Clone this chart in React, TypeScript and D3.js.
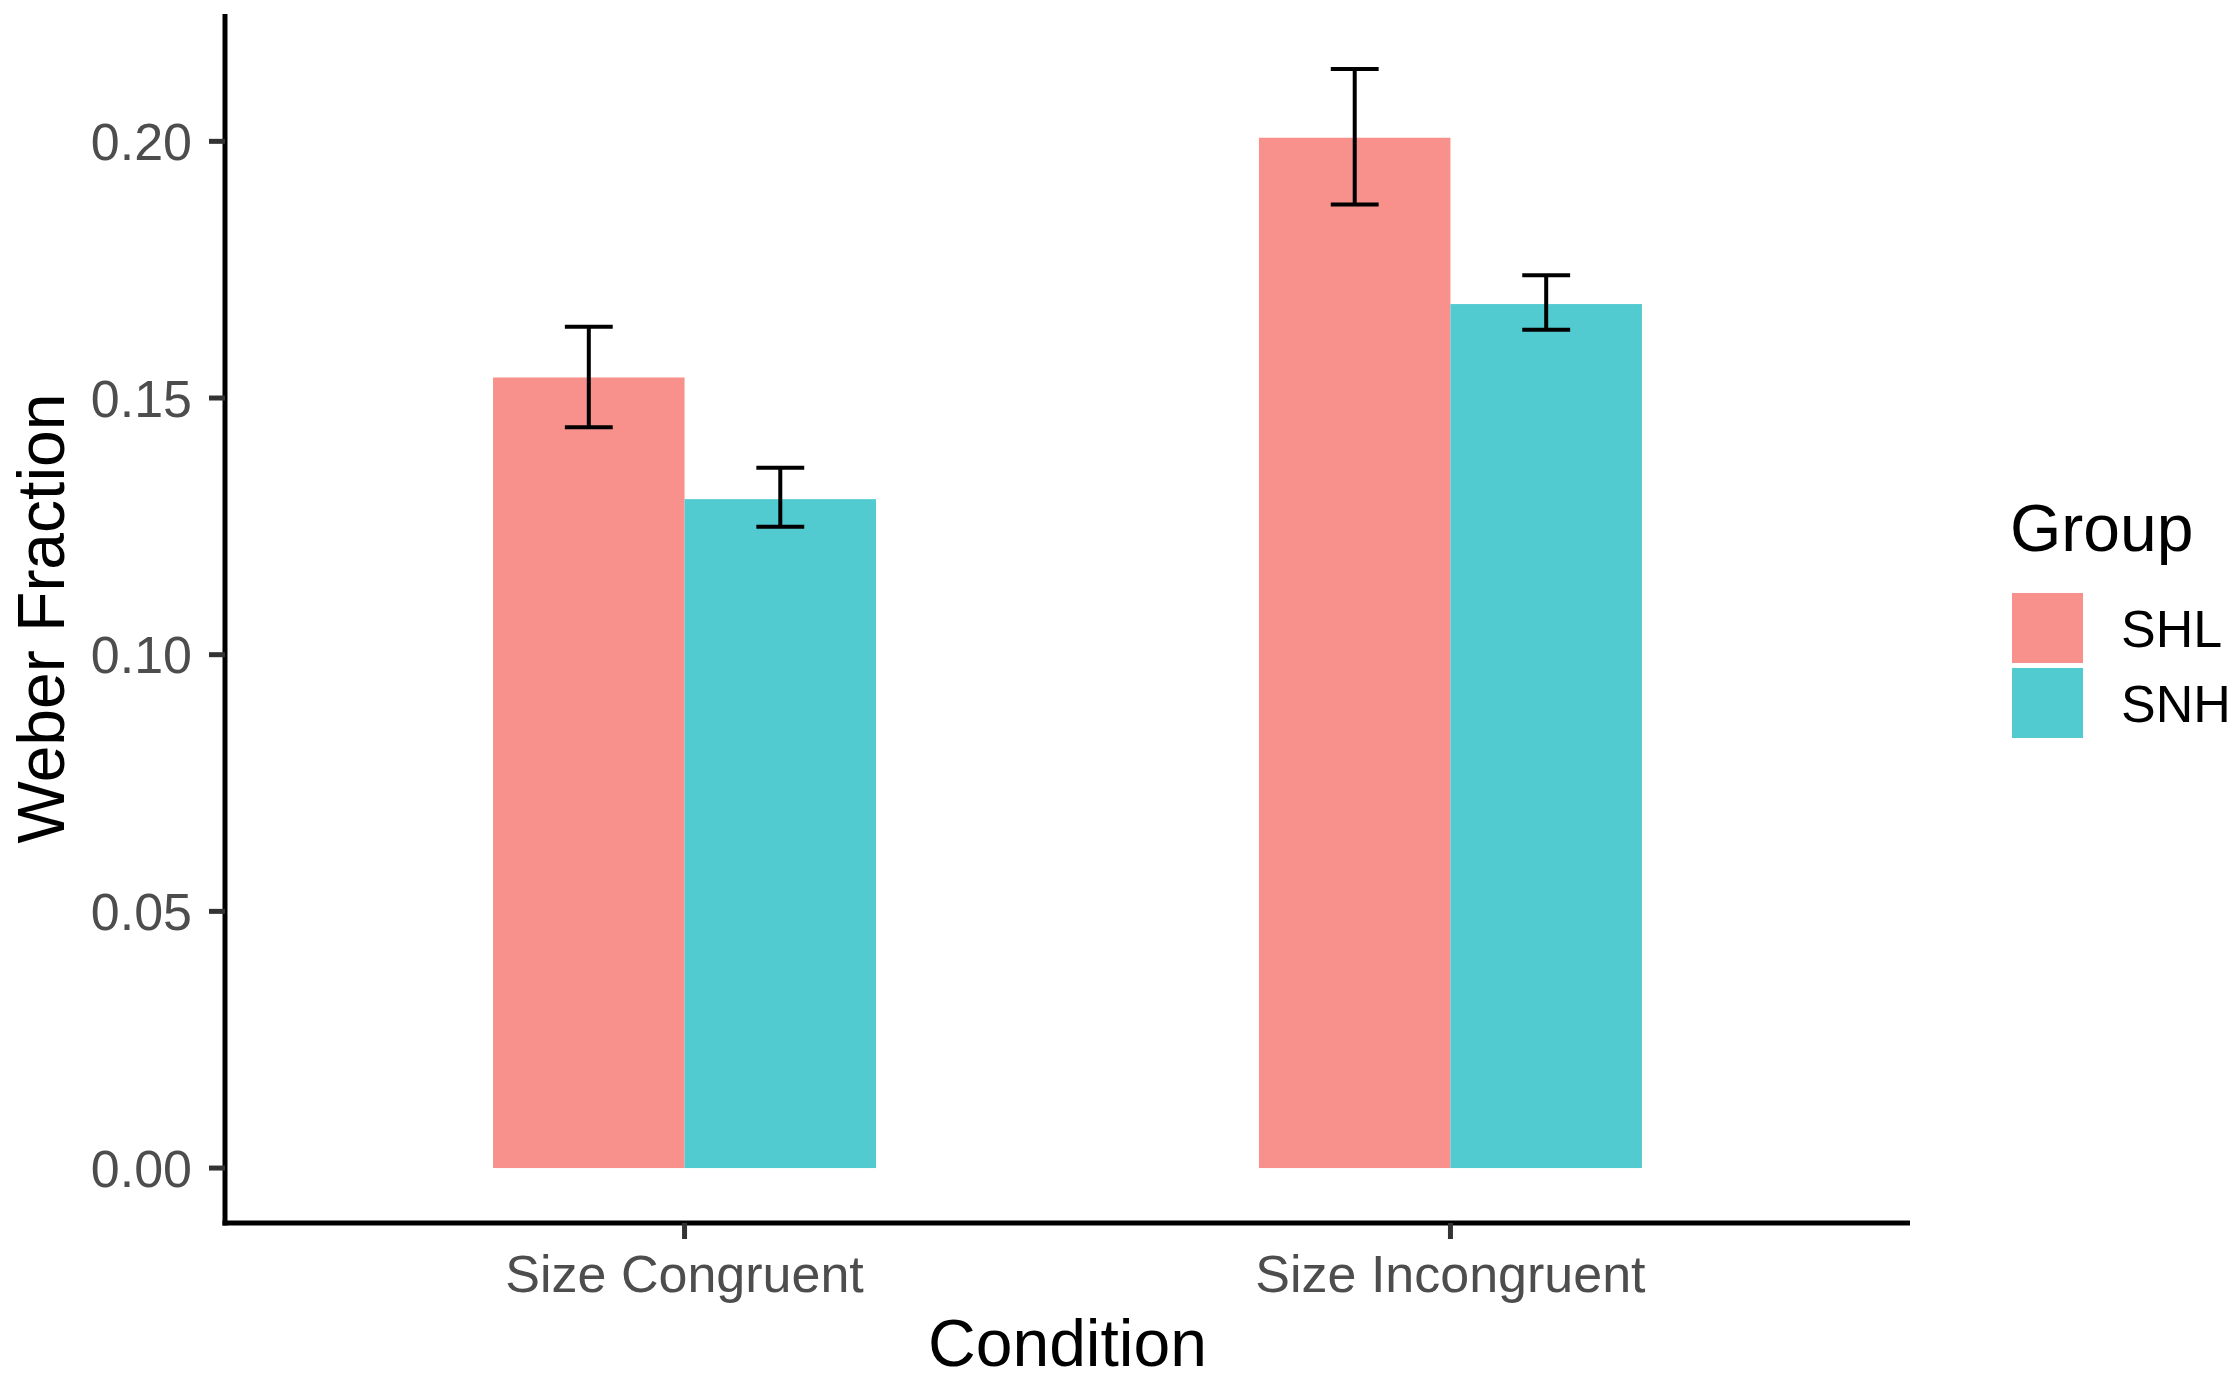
import React from "react";
import * as d3 from "d3";

const conditions = ["Size Congruent", "Size Incongruent"];
const groups = ["SHL", "SNH"];
const groupColors = ["#F8918B", "#51CBD0"];
// means[group][condition]
const shlMean = [0.1540, 0.2007];
const snhMean = [0.1303, 0.1683];
const shlLower = [0.1443, 0.1877];
const shlUpper = [0.1639, 0.2141];
const snhLower = [0.1249, 0.1633];
const snhUpper = [0.1364, 0.1739];
const yTicks = [0.0, 0.05, 0.1, 0.15, 0.2];

const W = 2240;
const H = 1381;
const left = 225;
const right = 1910;
const top = 14;
const bottom = 1223;
const FONT = "'Liberation Sans', Arial, Helvetica, sans-serif";

export default function App() {
  const rows = conditions.flatMap((c, i) => [
    { cond: c, group: groups[0], mean: shlMean[i], lo: shlLower[i], hi: shlUpper[i], color: groupColors[0] },
    { cond: c, group: groups[1], mean: snhMean[i], lo: snhLower[i], hi: snhUpper[i], color: groupColors[1] },
  ]);
  const maxV = d3.max(rows, (r) => r.hi) as number;
  const pad = maxV * 0.05;
  const y = d3.scaleLinear().domain([-pad, maxV + pad]).range([bottom, top]);
  const x = d3.scaleBand<string>().domain(conditions).range([left, right]).paddingInner(0).paddingOuter(0.1);
  const step = x.step();
  const gx = d3.scaleBand<string>().domain(groups).range([-0.25 * step, 0.25 * step]);
  const barW = gx.bandwidth();
  const capW = barW * 0.25;
  const center = (c: string) => (x(c) as number) + step / 2;

  return (
    <svg
      width={W}
      height={H}
      style={{ position: "absolute", left: 0, top: 0, background: "#fff" }}
      fontFamily={FONT}
    >
      <rect x={0} y={0} width={W} height={H} fill="#fff" />
      {rows.map((r, i) => {
        const bx = center(r.cond) + (gx(r.group) as number);
        return (
          <rect key={"b" + i} x={bx} y={y(r.mean)} width={barW} height={y(0) - y(r.mean)} fill={r.color} />
        );
      })}
      {rows.map((r, i) => {
        const cx = center(r.cond) + (gx(r.group) as number) + barW / 2;
        return (
          <g key={"e" + i} stroke="#000" strokeWidth={4} fill="none">
            <line x1={cx} x2={cx} y1={y(r.hi)} y2={y(r.lo)} />
            <line x1={cx - capW / 2} x2={cx + capW / 2} y1={y(r.hi)} y2={y(r.hi)} />
            <line x1={cx - capW / 2} x2={cx + capW / 2} y1={y(r.lo)} y2={y(r.lo)} />
          </g>
        );
      })}
      {/* y axis */}
      <line x1={left} x2={left} y1={top} y2={bottom + 2.5} stroke="#000" strokeWidth={5} />
      {yTicks.map((t) => (
        <g key={"yt" + t}>
          <line x1={left - 16} x2={left} y1={y(t)} y2={y(t)} stroke="#333" strokeWidth={5} />
          <text x={left - 33} y={y(t)} dy="0.36em" textAnchor="end" fontSize={52} fill="#4D4D4D">
            {d3.format(".2f")(t)}
          </text>
        </g>
      ))}
      {/* x axis */}
      <line x1={left - 2.5} x2={right} y1={bottom} y2={bottom} stroke="#000" strokeWidth={5} />
      {conditions.map((c) => (
        <g key={"xt" + c}>
          <line x1={center(c)} x2={center(c)} y1={bottom} y2={bottom + 16} stroke="#333" strokeWidth={5} />
          <text x={center(c)} y={1292} textAnchor="middle" fontSize={52} fill="#4D4D4D">
            {c}
          </text>
        </g>
      ))}
      <text x={(left + right) / 2} y={1366} textAnchor="middle" fontSize={66} fill="#000">
        Condition
      </text>
      <text
        transform={`translate(64, ${(top + bottom) / 2}) rotate(-90)`}
        textAnchor="middle"
        fontSize={66}
        fill="#000"
      >
        Weber Fraction
      </text>
      {/* legend */}
      <text x={2010} y={551} fontSize={66} fill="#000">
        Group
      </text>
      {groups.map((g, i) => (
        <g key={"lg" + g}>
          <rect x={2012} y={593 + i * 75} width={71} height={70} fill={groupColors[i]} />
          <text x={2121} y={628 + i * 75} dy="0.36em" fontSize={52} fill="#000">
            {g}
          </text>
        </g>
      ))}
    </svg>
  );
}
